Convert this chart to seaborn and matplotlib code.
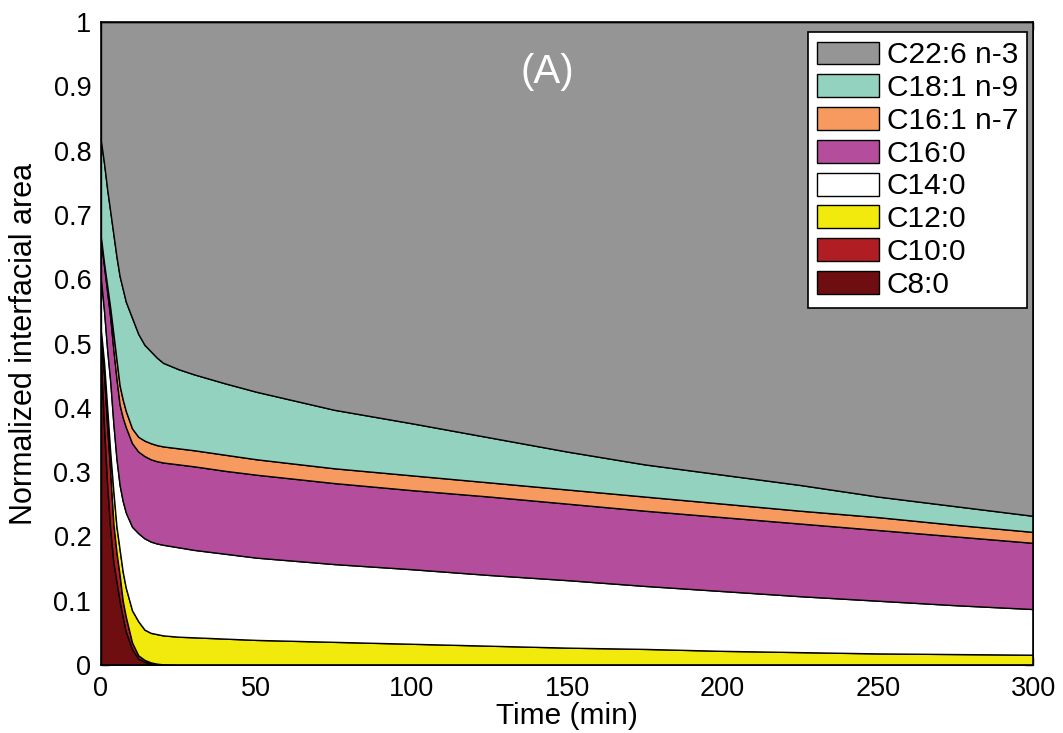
import numpy as np
import matplotlib
matplotlib.use("Agg")
import matplotlib.pyplot as plt
import seaborn as sns

# time axis (min) and normalized interfacial area of each fatty acid
time_min = [0, 1, 2, 3, 4, 5, 6, 7, 8, 10, 12, 14, 16, 18, 20, 25, 30, 40, 50,
            75, 100, 125, 150, 175, 200, 225, 250, 275, 300]

c8_0 = [0.48, 0.37, 0.28, 0.21, 0.16, 0.13, 0.10, 0.075, 0.052, 0.025, 0.010, 0.005, 0.002, 0.001, 0,
        0, 0, 0, 0, 0, 0, 0, 0, 0, 0, 0, 0, 0, 0]
c10_0 = [0.02, 0.08, 0.09, 0.09, 0.06, 0.045, 0.04, 0.025, 0.023, 0.01, 0.005, 0.003, 0.002, 0.001, 0.001,
         0, 0, 0, 0, 0, 0, 0, 0, 0, 0, 0, 0, 0, 0]
c12_0 = [0.02, 0.02, 0.03, 0.03, 0.05, 0.04, 0.04, 0.045, 0.045, 0.05, 0.053, 0.047, 0.046, 0.046, 0.045,
         0.044, 0.043, 0.041, 0.039, 0.036, 0.033, 0.03, 0.027, 0.025, 0.022, 0.02, 0.018, 0.017, 0.016]
c14_0 = [0.08, 0.08, 0.09, 0.11, 0.105, 0.105, 0.10, 0.11, 0.117, 0.13, 0.137, 0.142, 0.142, 0.141, 0.141,
         0.139, 0.136, 0.132, 0.128, 0.121, 0.116, 0.11, 0.105, 0.098, 0.093, 0.087, 0.082, 0.076, 0.071]
c16_0 = [0.06, 0.07, 0.09, 0.10, 0.115, 0.125, 0.125, 0.13, 0.133, 0.13, 0.127, 0.128, 0.128, 0.128, 0.128,
         0.129, 0.13, 0.129, 0.129, 0.126, 0.123, 0.122, 0.119, 0.117, 0.115, 0.113, 0.11, 0.107, 0.103]
c16_1 = [0.005, 0.005, 0.01, 0.015, 0.025, 0.03, 0.03, 0.028, 0.025, 0.023, 0.023, 0.024, 0.025, 0.025, 0.025,
         0.025, 0.025, 0.025, 0.024, 0.023, 0.023, 0.022, 0.022, 0.022, 0.021, 0.02, 0.02, 0.018, 0.017]
c18_1 = [0.15, 0.155, 0.15, 0.15, 0.155, 0.16, 0.17, 0.172, 0.17, 0.172, 0.16, 0.149, 0.143, 0.136, 0.13,
         0.123, 0.118, 0.111, 0.105, 0.091, 0.081, 0.07, 0.059, 0.05, 0.045, 0.04, 0.032, 0.029, 0.025]
c22_6 = [0.185, 0.22, 0.26, 0.295, 0.33, 0.365, 0.395, 0.415, 0.435, 0.46, 0.485, 0.502, 0.512, 0.522, 0.53,
         0.54, 0.548, 0.562, 0.575, 0.603, 0.624, 0.646, 0.668, 0.688, 0.704, 0.72, 0.738, 0.753, 0.768]

labels = ["C8:0", "C10:0", "C12:0", "C14:0", "C16:0", "C16:1 n-7", "C18:1 n-9", "C22:6 n-3"]
colors = ["#6e0e10", "#b01e23", "#f2ea0d", "#ffffff", "#b44d9b", "#f79a5f", "#92d2bf", "#959595"]

sns.set_theme(style="ticks")
plt.rcParams['font.family'] = ['Liberation Sans', 'DejaVu Sans']
plt.rcParams['text.color'] = 'black'
plt.rcParams['axes.labelcolor'] = 'black'

fig = plt.figure(figsize=(10.63, 7.33), dpi=100)
ax = fig.add_axes([0.095, 0.0928, 0.877, 0.877])

ax.stackplot(time_min, c8_0, c10_0, c12_0, c14_0, c16_0, c16_1, c18_1, c22_6,
             colors=colors, labels=labels, edgecolor="black", linewidth=1.0)

ax.set_xlim(0, 300)
ax.set_ylim(0, 1)
ax.set_xticks(np.arange(0, 301, 50))
ax.set_yticks(np.arange(0, 1.01, 0.1))
ax.set_yticklabels(["0", "0.1", "0.2", "0.3", "0.4", "0.5", "0.6", "0.7", "0.8", "0.9", "1"])
ax.tick_params(direction="in", length=6, width=1, top=True, right=True, labelsize=19.5,
               color="black", labelcolor="black")
ax.tick_params(axis="x", pad=8)
ax.tick_params(axis="y", pad=7)
for sp in ax.spines.values():
    sp.set_color("black")
    sp.set_linewidth(1.2)

ax.set_xlabel("Time (min)", fontsize=21.5, labelpad=0)
ax.set_ylabel("Normalized interfacial area", fontsize=22, labelpad=10)

ax.text(0.479, 0.922, "(A)", transform=ax.transAxes, color="white", fontsize=29,
        ha="center", va="center")

handles, labs = ax.get_legend_handles_labels()
leg = ax.legend(handles[::-1], labs[::-1], loc="upper right", bbox_to_anchor=(0.9936, 0.984),
                borderaxespad=0, fontsize=21.5, frameon=True, fancybox=False,
                handlelength=2.1, handleheight=0.8, handletextpad=0.25, labelspacing=0.16,
                borderpad=0.3)
leg.get_frame().set_edgecolor("black")
leg.get_frame().set_linewidth(1.2)
leg.get_frame().set_alpha(1)

fig.savefig("out.png", dpi=100)
